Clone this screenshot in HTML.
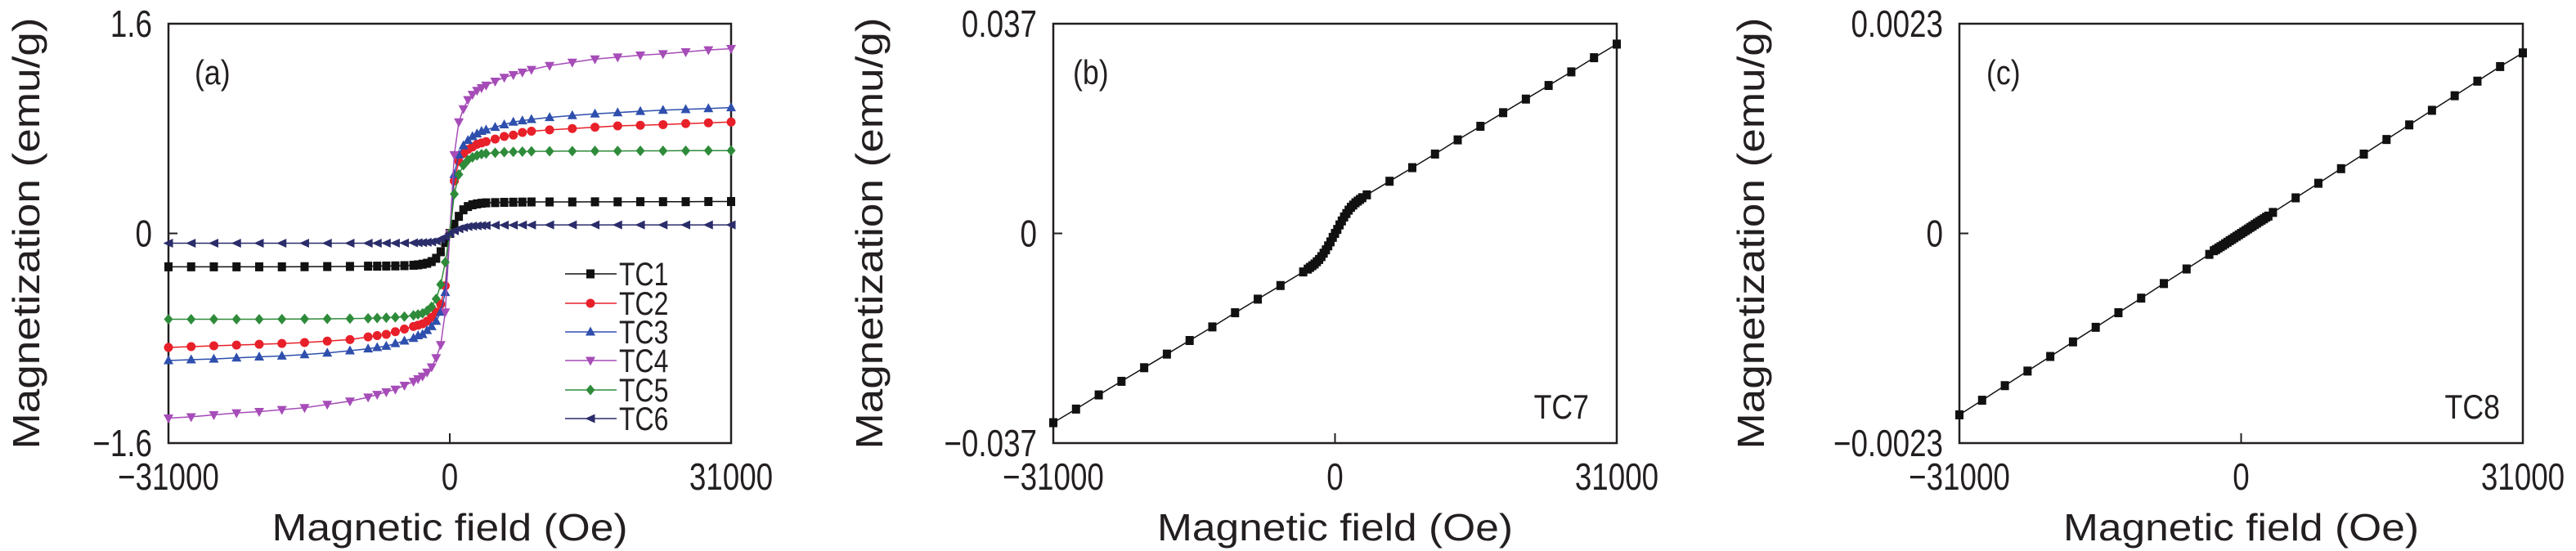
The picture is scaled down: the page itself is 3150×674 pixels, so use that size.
<!DOCTYPE html>
<html><head><meta charset="utf-8"><style>
html,body{margin:0;padding:0;background:#fff;}
svg{display:block;}
text{font-family:"Liberation Sans",sans-serif;fill:#231f20;}
</style></head><body>
<svg id="fig" width="3150" height="674" viewBox="0 0 3150 674" xmlns="http://www.w3.org/2000/svg"></svg>
<script>
// ---------- data ----------
const fieldA = [-31000,-28500,-26000,-23500,-21000,-18500,-16000,-13500,-11000,
 -9000,-8000,-7000,-6000,-5000,-4000,-3500,-3000,-2500,-2000,-1500,-1000,-500,0,
 500,1000,1500,2000,2500,3000,3500,4000,5000,6000,7000,8000,9000,
 11000,13500,16000,18500,21000,23500,26000,28500,31000];
const tc1 = [-0.255,-0.255,-0.255,-0.255,-0.255,-0.255,-0.254,-0.253,-0.252,
 -0.25,-0.25,-0.249,-0.248,-0.246,-0.243,-0.24,-0.235,-0.228,-0.215,-0.19,-0.14,-0.07,0,
 0.07,0.13,0.18,0.205,0.218,0.225,0.23,0.233,0.235,0.237,0.238,0.239,0.24,
 0.24,0.24,0.241,0.241,0.242,0.242,0.242,0.243,0.243];
const tc2 = [-0.87,-0.864,-0.858,-0.852,-0.846,-0.84,-0.833,-0.822,-0.81,
 -0.79,-0.78,-0.77,-0.75,-0.73,-0.71,-0.7,-0.69,-0.67,-0.64,-0.6,-0.54,-0.4,0,
 0.4,0.55,0.61,0.64,0.66,0.68,0.69,0.7,0.72,0.74,0.75,0.77,0.78,
 0.79,0.8,0.81,0.82,0.825,0.83,0.838,0.844,0.85];
const tc3 = [-0.97,-0.964,-0.958,-0.95,-0.942,-0.935,-0.925,-0.912,-0.895,
 -0.88,-0.87,-0.86,-0.84,-0.82,-0.8,-0.78,-0.77,-0.74,-0.71,-0.67,-0.6,-0.45,0,
 0.45,0.6,0.67,0.71,0.74,0.76,0.78,0.79,0.81,0.83,0.85,0.86,0.87,
 0.885,0.9,0.912,0.922,0.932,0.94,0.946,0.953,0.96];
const tc4 = [-1.41,-1.40,-1.385,-1.37,-1.36,-1.345,-1.33,-1.305,-1.28,
 -1.25,-1.23,-1.21,-1.19,-1.16,-1.13,-1.11,-1.09,-1.06,-1.02,-0.95,-0.85,-0.6,0,
 0.6,0.85,0.95,1.02,1.06,1.09,1.11,1.13,1.16,1.19,1.21,1.23,1.25,
 1.28,1.305,1.33,1.345,1.36,1.37,1.385,1.40,1.41];
const tc5 = [-0.655,-0.655,-0.655,-0.655,-0.655,-0.654,-0.653,-0.652,-0.65,
 -0.648,-0.646,-0.643,-0.64,-0.635,-0.625,-0.618,-0.61,-0.59,-0.56,-0.5,-0.39,-0.22,0,
 0.3,0.45,0.52,0.56,0.58,0.595,0.605,0.61,0.615,0.62,0.622,0.624,0.626,
 0.627,0.628,0.629,0.629,0.63,0.63,0.631,0.632,0.632];
const tc6 = [-0.075,-0.075,-0.075,-0.075,-0.075,-0.075,-0.075,-0.075,-0.075,
 -0.075,-0.075,-0.074,-0.074,-0.073,-0.072,-0.071,-0.07,-0.068,-0.065,-0.058,-0.045,-0.025,0,
 0.02,0.035,0.045,0.052,0.056,0.058,0.06,0.061,0.062,0.063,0.063,0.064,0.064,
 0.065,0.065,0.065,0.065,0.065,0.065,0.065,0.065,0.065];
const seriesNames = ["TC1","TC2","TC3","TC4","TC5","TC6"];

const fieldBC = [-31000,-28500,-26000,-23500,-21000,-18500,-16000,-13500,-11000,-8500,-6000,-3500,
 -3000,-2750,-2500,-2250,-2000,-1750,-1500,-1250,-1000,-750,-500,-250,0,
 250,500,750,1000,1250,1500,1750,2000,2250,2500,2750,3000,
 3500,6000,8500,11000,13500,16000,18500,21000,23500,26000,28500,31000];
const tc7 = [-0.0334,-0.0310,-0.0285,-0.0261,-0.0237,-0.0213,-0.0189,-0.0165,-0.0140,-0.0116,-0.0092,-0.0068,
 -0.0063,-0.0060,-0.0057,-0.0054,-0.0050,-0.0046,-0.0041,-0.0035,-0.0029,-0.0022,-0.0015,-0.0007,0,
 0.0007,0.0015,0.0022,0.0029,0.0035,0.0041,0.0046,0.0050,0.0054,0.0057,0.0060,0.0063,
 0.0068,0.0092,0.0116,0.0140,0.0165,0.0189,0.0213,0.0237,0.0261,0.0285,0.0310,0.0334];
const tc8 = [-0.00199,-0.00183,-0.00167,-0.00151,-0.00135,-0.00119,-0.00103,-0.00087,-0.00071,-0.00055,-0.00039,-0.00023,
 -0.00019,-0.000177,-0.00016,-0.000145,-0.00013,-0.000113,-0.000097,-0.00008,-0.000065,-0.000048,-0.000032,-0.000016,0,
 0.000016,0.000032,0.000048,0.000065,0.00008,0.000097,0.000113,0.00013,0.000145,0.00016,0.000177,0.00019,
 0.00023,0.00039,0.00055,0.00071,0.00087,0.00103,0.00119,0.00135,0.00151,0.00167,0.00183,0.00198];

const yTicksA = ["1.6","0","\u22121.6"];
const yTicksB = ["0.037","0","\u22120.037"];
const yTicksC = ["0.0023","0","\u22120.0023"];
const xTickLabels = ["\u221231000","0","31000"];

// ---------- drawing ----------
const NS = "http://www.w3.org/2000/svg";
const svg = document.getElementById("fig");
function mk(tag, attrs, parent){
  const e = document.createElementNS(NS, tag);
  for (const k in attrs) e.setAttribute(k, attrs[k]);
  (parent||svg).appendChild(e);
  return e;
}
const TOP = 29, BOT = 542;
function makeAxes(x0, x1, ymax){
  return {
    x: h => x0 + (h + 31000) / 62000 * (x1 - x0),
    y: m => (TOP + BOT)/2 - m / ymax * (BOT - TOP)/2
  };
}
function marker(g, type, cx, cy, color){
  const s = 5.5;
  let el;
  if (type === "square") el = mk("rect",{x:cx-s+0.5,y:cy-s,width:2*s-1,height:2*s,fill:color},g);
  else if (type === "circle") el = mk("circle",{cx:cx,cy:cy,r:s,fill:color},g);
  else if (type === "up") el = mk("polygon",{points:`${cx},${cy-s-1} ${cx+s+0.5},${cy+s-1} ${cx-s-0.5},${cy+s-1}`,fill:color},g);
  else if (type === "down") el = mk("polygon",{points:`${cx},${cy+s+1} ${cx+s+0.5},${cy-s+1} ${cx-s-0.5},${cy-s+1}`,fill:color},g);
  else if (type === "diamond") el = mk("polygon",{points:`${cx},${cy-s-1} ${cx+s},${cy} ${cx},${cy+s+1} ${cx-s},${cy}`,fill:color},g);
  else el = mk("polygon",{points:`${cx-s-1},${cy} ${cx+s},${cy-s} ${cx+s},${cy+s}`,fill:color},g);
  
  
}
function drawSeries(ax, xs, ys, color, type, name){
  const g = mk("g",{});
  
  
  const pts = xs.map((h,i)=> ax.x(h).toFixed(1)+","+ax.y(ys[i]).toFixed(1)).join(" ");
  mk("polyline",{points:pts,fill:"none",stroke:color,"stroke-width":1.5},g);
  xs.forEach((h,i)=> marker(g, type, ax.x(h), ax.y(ys[i]), color));
}
function panel(x0, x1, ymax, yTicks, titleX, tag, letterX){
  const ax = makeAxes(x0, x1, ymax);
  const g = mk("g",{});
  
  
  const frame = mk("rect",{x:x0,y:TOP,width:x1-x0,height:BOT-TOP,fill:"none",stroke:"#231f20","stroke-width":2.5},g);
  
  
  mk("line",{x1:x0,y1:ax.y(0),x2:x0+11,y2:ax.y(0),stroke:"#231f20","stroke-width":2},g);
  mk("line",{x1:ax.x(0),y1:BOT,x2:ax.x(0),y2:BOT-12,stroke:"#231f20","stroke-width":2},g);
  const yv = [ymax, 0, -ymax];
  yTicks.forEach((t,i)=>{
    const tx = mk("text",{x:x0-20,y:ax.y(yv[i])+16,"font-size":46,"text-anchor":"end",transform:`translate(${x0-20},0) scale(0.8,1) translate(${-(x0-20)},0)`},g);
    tx.textContent = t;
    
    
  });
  const xv = [-31000, 0, 31000];
  xTickLabels.forEach((t,i)=>{
    const cx = ax.x(xv[i]);
    const tx = mk("text",{x:cx,y:599,"font-size":46,"text-anchor":"middle",transform:`translate(${cx},0) scale(0.8,1) translate(${-cx},0)`},g);
    tx.textContent = t;
    
    
  });
  const cx = (x0+x1)/2;
  const xt = mk("text",{x:cx,y:661,"font-size":46,"text-anchor":"middle",textLength:435,lengthAdjust:"spacingAndGlyphs"},g);
  xt.textContent = "Magnetic field (Oe)";
  
  
  const yt = mk("text",{x:0,y:0,"font-size":46,"text-anchor":"middle",textLength:528,lengthAdjust:"spacingAndGlyphs",transform:`translate(${titleX+16},${(TOP+BOT)/2}) rotate(-90)`},g);
  yt.textContent = "Magnetization (emu/g)";
  
  
  const pl = mk("text",{x:letterX,y:103,"font-size":42,transform:`translate(${letterX},0) scale(0.85,1) translate(${-letterX},0)`},g);
  pl.textContent = "(" + tag + ")";
  
  
  return ax;
}

// Panel (a)
const axA = panel(206, 894, 1.6, yTicksA, 32, "a", 238);
const colors = ["#111111","#e8202a","#2e4fad","#a64cb8","#2e8b3a","#2b2c6a"];
const types = ["square","circle","up","down","diamond","left"];
const dataA = [tc1,tc2,tc3,tc4,tc5,tc6];
dataA.forEach((d,i)=> drawSeries(axA, fieldA, d, colors[i], types[i], seriesNames[i]));
// legend
const legendY = [335,371,406,441,477,512];
seriesNames.forEach((n,i)=>{
  const g = mk("g",{});
  
  
  mk("line",{x1:691,y1:legendY[i],x2:754,y2:legendY[i],stroke:colors[i],"stroke-width":1.5},g);
  marker(g, types[i], 722, legendY[i], colors[i]);
  const t = mk("text",{x:757,y:legendY[i]+14,"font-size":40,transform:`translate(757,0) scale(0.8,1) translate(-757,0)`},g);
  t.textContent = n;
});

// Panel (b)
const axB = panel(1288, 1977, 0.037, yTicksB, 1063, "b", 1312);
drawSeries(axB, fieldBC, tc7, "#111111", "square", "TC7");
const lb = mk("text",{x:1943,y:512,"font-size":42,"text-anchor":"end",transform:"translate(1943,0) scale(0.85,1) translate(-1943,0)"});
lb.textContent = "TC7";



// Panel (c)
const axC = panel(2396, 3085, 0.0023, yTicksC, 2141, "c", 2429);
drawSeries(axC, fieldBC, tc8, "#111111", "square", "TC8");
const lc = mk("text",{x:3057,y:512,"font-size":42,"text-anchor":"end",transform:"translate(3057,0) scale(0.85,1) translate(-3057,0)"});
lc.textContent = "TC8";


</script>
</body></html>
